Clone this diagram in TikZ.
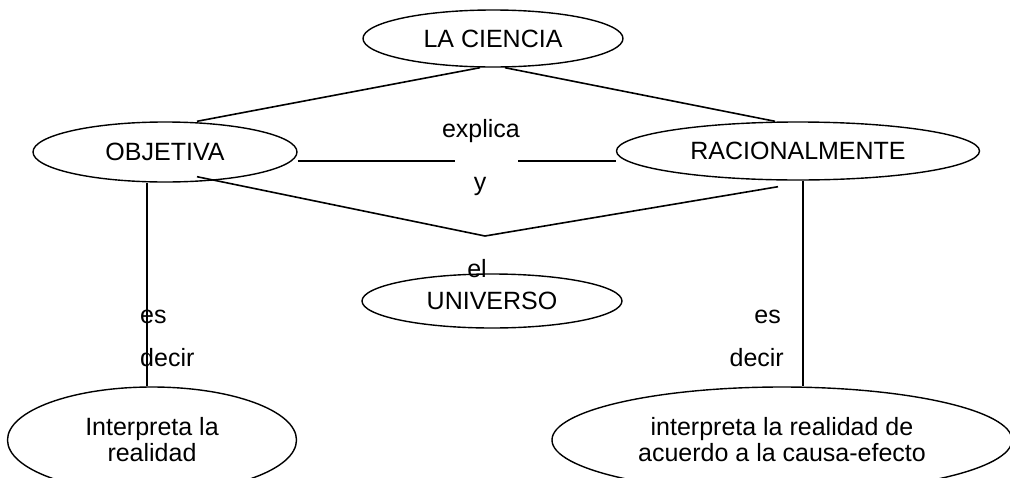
\documentclass[tikz,border=0pt]{standalone}
\usepackage{fontspec}
\setmainfont{Liberation Sans}
\usetikzlibrary{shapes.geometric,calc}
\begin{document}
\begin{tikzpicture}[x=1pt,y=-1pt,
  every node/.style={font=\fontsize{25}{26}\selectfont},
  oval/.style={draw,ellipse,line width=1.4pt,inner sep=0pt,align=center},
  lbl/.style={inner sep=0pt,anchor=base},
  conn/.style={line width=1.6pt}]
\useasboundingbox (0,0) rectangle (1010,477);
\node[oval,minimum width=260,minimum height=57] (cien) at (493,38.5) {LA CIENCIA};
\node[oval,minimum width=264,minimum height=60] (obj) at (165,152) {OBJETIVA};
\node[oval,minimum width=363,minimum height=58] (rac) at (798,151) {RACIONALMENTE};
\node[oval,minimum width=260,minimum height=54] (univ) at (492,301) {UNIVERSO};
\node[oval,minimum width=289,minimum height=106] (interp) at (152,440) {Interpreta la\\realidad};
\node[oval,minimum width=460,minimum height=106] (caus) at (782,440) {interpreta la realidad de\\acuerdo a la causa-efecto};
% labels
\node[lbl] (explica) at (481,137) {explica};
\node[lbl] (yy) at (480,190) {y};
\node[lbl] (el) at (477,277) {el};
\node[lbl,anchor=base west] (esL) at (140,323) {es};
\node[lbl,anchor=base west] (decL) at (140,366) {decir};
\node[lbl,anchor=base east] (esR) at (781,323) {es};
\node[lbl,anchor=base east] (decR) at (784,366) {decir};
% coordinates
\coordinate (gapL) at (455,161);
\coordinate (gapR) at (518,161);
\coordinate (vtx) at (485,236);
% connectors
\draw[conn] ($(cien.south)+(-13,0)$) -- ($(obj.north)+(32,0)$);
\draw[conn] ($(cien.south)+(12,0)$) -- ($(rac.north)+(-23,0)$);
\draw[conn] ($(obj.east)+(0,9)$) -- (gapL);
\draw[conn] (gapR) -- ($(rac.west)+(0,10)$);
\draw[conn] ($(obj.south)+(32,-6)$) -- (vtx) -- ($(rac.south)+(-20,6)$);
\draw[conn] ($(obj.south)+(-18,0)$) coordinate (va) -- (va |- interp.north);
\draw[conn] ($(rac.south)+(5,0)$) coordinate (vb) -- (vb |- caus.north);
\end{tikzpicture}
\end{document}
